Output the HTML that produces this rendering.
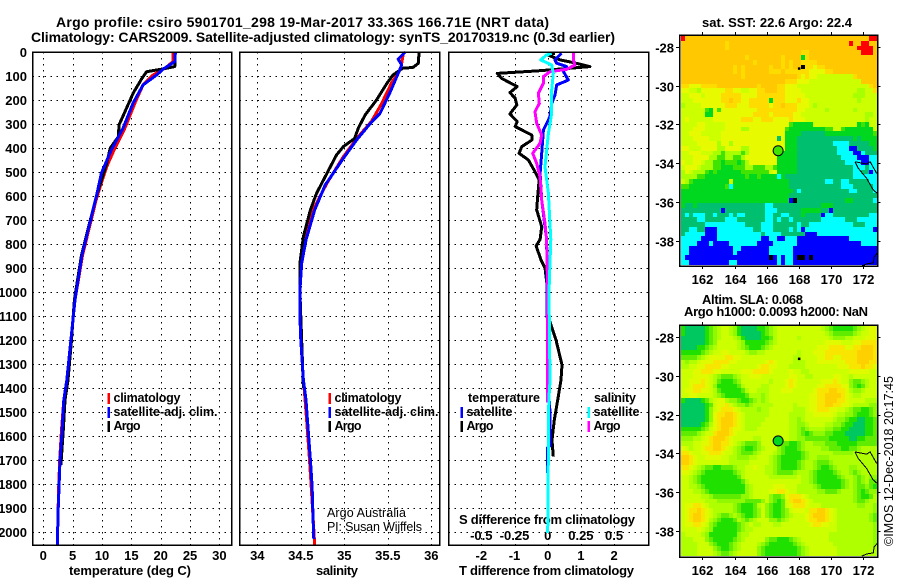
<!DOCTYPE html>
<html lang="en"><head><meta charset="utf-8"><title>Argo profile</title>
<style>
html,body{margin:0;padding:0;background:#fff;width:900px;height:580px;overflow:hidden}
svg{display:block}
text{font-family:"Liberation Sans",sans-serif;fill:#000}
.b{font-weight:bold;font-size:13px}
.l{font-weight:bold;font-size:12.5px}
.t{font-weight:bold;font-size:14px}
.n{font-size:12.5px}
</style></head><body>
<svg id="chart" xmlns="http://www.w3.org/2000/svg" width="900" height="580" viewBox="0 0 900 580">
<text class="t" x="56" y="27" textLength="493">Argo profile: csiro 5901701_298 19-Mar-2017 33.36S 166.71E (NRT data)</text>
<text class="t" x="31" y="42" textLength="584">Climatology: CARS2009. Satellite-adjusted climatology: synTS_20170319.nc (0.3d earlier)</text>
<text class="b" x="69" y="575" textLength="122">temperature (deg C)</text>
<text class="b" x="316" y="575" textLength="42">salinity</text>
<text class="b" x="459" y="575" textLength="175">T difference from climatology</text>
<text class="b" x="459" y="524" textLength="176">S difference from climatology</text>
<text class="n" x="327" y="517" textLength="79">Argo Australia</text>
<text class="n" x="327" y="531" textLength="95">PI: Susan Wijffels</text>
<text class="b" x="702" y="27" textLength="150">sat. SST: 22.6 Argo: 22.4</text>
<text class="b" x="702" y="304" textLength="101">Altim. SLA: 0.068</text>
<text class="b" x="684" y="316" textLength="184">Argo h1000: 0.0093 h2000: NaN</text>
<text class="n" transform="translate(893,546) rotate(-90)" textLength="170">©IMOS 12-Dec-2018 20:17:45</text>
</svg>
<script>
// ---------- chart data ----------
const depthTicks = [0,100,200,300,400,500,600,700,800,900,1000,1100,1200,1300,1400,1500,1600,1700,1800,1900,2000];
const tempTicks = [0,5,10,15,20,25,30];
const salTicks = [34,34.5,35,35.5,36];
const salTickLabels = ['34','34.5','35','35.5','36'];
const tDiffTicks = [-2,-1,0,1,2];
const sDiffTicks = [-0.5,-0.25,0,0.25,0.5];
const sDiffTickLabels = ['-0.5','-0.25','0','0.25','0.5'];
const lonTicks = [162,164,166,168,170,172];
const latTicks = [-28,-30,-32,-34,-36,-38];

const tempClimDepth = [0,40,68,96,137,213,317,401,478,561,617,846,1033,1200,1367,1450,1575,1700,1825,1925,2054];
const tempClim = [22.1,22.1,20.7,18.7,17,15.6,13.9,12.2,10.8,9.7,9,6.7,5.4,4.7,4,3.5,3.1,2.8,2.6,2.5,2.4];
const tempSatDepth = [0,40,70,96,137,213,317,408,505,595,846,1033,1200,1367,1450,1575,1700,1825,1925,2054];
const tempSat = [22.5,22.4,20.5,19.3,17,15.3,13.6,11.6,9.9,9.1,6.6,5.4,4.7,4,3.5,3.2,2.85,2.65,2.5,2.4];
const tempArgoDepth = [0,61,70,82,110,172,249,304,353,401,464,596,846,1033,1200,1367,1450,1575,1720];
const tempArgo = [22.4,22.4,20.5,17.6,16.8,15.3,13.9,12.9,12.8,11.4,10.8,9.1,6.5,5.3,4.8,4.2,3.7,3.4,3];

const salClimDepth = [0,47,68,131,214,290,353,436,547,658,783,894,992,1100,1200,1367,1450,1600,1700,1810,1935,2054];
const salClim = [35.68,35.66,35.65,35.54,35.43,35.31,35.16,34.99,34.8,34.64,34.55,34.5,34.49,34.49,34.5,34.53,34.55,34.58,34.6,34.62,34.64,34.66];
const salSatDepth = [0,30,54,89,165,256,297,367,443,554,658,783,880,992,1100,1200,1367,1450,1600,1700,1810,1935,2030];
const salSat = [35.7,35.62,35.66,35.62,35.53,35.41,35.3,35.14,34.99,34.78,34.66,34.56,34.51,34.49,34.49,34.5,34.53,34.56,34.59,34.61,34.63,34.64,34.65];
const salArgoDepth = [0,47,64,68,96,131,200,262,318,360,394,429,506,589,658,769,880,1000,1400];
const salArgo = [35.86,35.85,35.79,35.67,35.56,35.49,35.37,35.24,35.16,35.12,34.99,34.91,34.8,34.68,34.61,34.53,34.49,34.49,34.53];

const tDiffArgoDepth = [5,12,33,44,61,78,89,110,144,169,193,221,258,290,311,346,367,394,422,450,499,533,617,658,728,781,808,867,900,992,1117,1200,1304,1367,1450,1533,1617,1686];
const tDiffArgo = [0.22,0,0.37,0.77,1.27,-0.23,-1.52,-1.39,-0.92,-1.14,-0.98,-0.93,-1.14,-0.92,-0.98,-0.48,-0.48,-0.78,-0.86,-0.58,-0.38,-0.26,-0.31,-0.33,-0.18,-0.23,-0.35,-0.2,-0.08,0,0.05,0.25,0.43,0.4,0.3,0.2,0.13,0.17];
const tDiffSatDepth = [5,33,47,61,75,117,137,179,214,269,325,422,506,617,728,781,1000,1300,1400,1500,1640,1650,1755];
const tDiffSat = [0.42,0.22,0.27,0.57,0.45,0.62,0.27,0.22,0.12,0.07,-0.13,-0.18,-0.23,-0.18,-0.08,-0.03,-0.02,0,0.02,0.07,0.07,-0.01,-0.01];
const sDiffArgoDepth = [5,33,54,72,82,103,131,172,214,249,297,346,381,422,464,519,617,714,781,1000,1300,1460];
const sDiffArgo = [0.193,0.193,0.205,0.143,0.017,-0.033,-0.033,-0.07,-0.063,-0.096,-0.083,-0.045,-0.058,-0.113,-0.083,-0.058,-0.045,-0.02,-0.008,0,0,0];
const sDiffSatDepth = [5,12,33,54,89,158,256,339,478,589,781,1000,1370,1450,2004];
const sDiffSat = [0.03,-0.008,-0.053,0.03,0.042,0.03,0.03,0.005,-0.02,0.005,0.023,0.01,0.017,0.008,0];

const coastLon1 = [171.48,171.69,172.21,172.62,172.87];
const coastLat1 = [-33.93,-34.27,-34.79,-35.39,-35.56];
const coastLon2 = [171.48,172.21,172.42,172.83];
const coastLat2 = [-33.93,-34.05,-33.93,-34.53];
const coastLon3 = [171.9,172.21,172.62,172.67,172.87];
const coastLat3 = [-39.32,-39.21,-39.15,-38.84,-38.66];
const floatLon = 166.71;
const floatLat = -33.36;

const sstRows = [
"ROOOOOOOOO OOOOOOOOOO OOOOOOOOOO OOOOOOOOOO OOOOOOORR",
"OOOOOOOOOO OPOOOOOOOO OOOOOOOOOO OOOOOOOOOO OOROORROO",
"OOOOOOOOOO OPOOOOOOOO OOOOOOOOOO OOOOOOOOOO OOOORRRRO",
"OOOOOOOOOO OOOOOOOOOO OOOOOOOOOO PPOOOOOOOO OOOOORRRO",
"OOOOOOOOOO OOOOOOPOOO OOOOOPOOOO GPOOOOOOOO OOOOOOOOO",
"OOOOOOOOOO OOOOOOOOPO OOOOOPOPOO PPPPOOOOOO OOOOOOOOO",
"OOOOOOOOOO OOOPOPOOOO OOPOOPOPOO KPPYPPOOOO OOOOOOOOO",
"OOOOOOOOOO OOOPOPOOOO OOPPPOPPPP PPYYYYPPOO OOOOOOOOO",
"OOOOOOOOOO OOOOOPOOOO OOOOOOOOOP YPYYLLLLLL LLLPOOOOO",
"OOOOOOOOOO OOOOOOOOOO OOOOOOPPPY YYLLLLLLLL LLLLLOOOO",
"PPYYYPPPPO OOOOOOOOOP OOOOPPYYYL LLLLLLLLLL LLLLLLLPO",
"YYLLMYYYYY YPPYYLLYYP POOOPPYYYY LLLLLLLLLL LLLLMMLLP",
"LLYYYLYYYY PPPPPYYYYP PPPPPPYYYY YLLLLLLLLL LLLMMMLLL",
"LLLYYYYYYY PPOPPYYPPP PPGPPPYYYP YYLLLLLLLL LLLLMLLLL",
"MLLLLYYYYY YPPPYYYPPP PPYPPOPPPY YYLMLLLLLL LLLLLLLLL",
"LLLLLLHGYH YYYYYYYYYP PPPPPPPPPY YLLLLLMLLL LLLMLLLLL",
"LLLLLLGGYY YYYYYYYYPP PPYPPPPPYY LLLLLLLLLL LLLLLLMML",
"LYLLLLLLYY YYYYYPPPYY PPPYYYYPYY YLLLLLLLLL LLLLLLMLL",
"LLLLYYLLLL LYYYYYYYYY YYYYYYYHGG GGGLLLLLLL LLLLGHGLL",
"LLLYYYLLLL LYYYYMMYYY YYYYYYHGGG GGGGGGHHLL HGGGGGGGL",
"LLYYYLLLLL YYYYYYYYYY YYYYYYGGGG TTTTTTGGGG GGGGGGGGH",
"LLLYYYYLLL YYYYYYYYYY YYYYTYGGGT TTTTTTTTTT TTTGTGGGG",
"LLLLYYYYYM YYMYYYYYYY YYYYYYGGGT TTTTTTTTCC CCTTTTTGG",
"YYLLLYYYYM MYYYYMMYYY YYYYYYGGGT TTTTTTTTTC CCBBTTTTG",
"LLYYYLLLMM HMMMMHMYYY YYYYGGGGGT TTTTTTTTTC CCCBBCTTT",
"LLLYYYYMMH HMMHHMYYYY YYYYGGGGGT TTTTTTTTTT CCCCBBBCC",
"YLLYYLMMHH GHHHGHMYYY YYYYGGGGGT TTTTTTTTTT TCCCCBBCC",
"LYYYLMMMHH GGGHHHMMHH HMMHGGGGGT TTTTTTTTTT TTTCCCTCC",
"MYLMMMHGHG GGGGGHHHHH HHLYGGGGGT TTTTTTTTTT TTTCCTTBC",
"MMMMHHGGGG GGGGGGHGGH GGGGCGTTTT TTTTTTTTTT TTTCCCCCC",
"LMHGGGGGGG GGLGGGGGGG GGGGGGGTTT TTTTTTCCTT CCTTTTTCC",
"HHGGGGGGGG GHCGGGGGGG GGGGGGGTTT TTTTTTTTTT CCCTTTTTC",
"GGGGGGGGGG GGGGGGGGGG GGGGGGGGTC TTTTTTTTTT TTCCTTTTC",
"GGGGGGGGGG GGGGGGGGGG GGGGGGGTTT TTTTTTTTTT TTTTTTTTT",
"GGGGGGGGGG GGGGGGGGGG GGGGGGGBKT TTTTTTTTTT TGGTTTTTC",
"GTTGTTTTTT TTTTTTTTTT TCCTTTTTTT TTTTTGGGTT TTTTTTTTT",
"TTTTTTTTTT BTTTTTTTTT TCCCTTTTTT GGGGGTTBTT TTTTTTTTT",
"TCTCCCTTCT TTCTCCTTTT TCCTTCCTTT GTTTTBCCTT TTTTTTTCC",
"TTTTCCTTTT TCCCTTTTTT TCCTCTTCTT TTTTTCCCCC CTTTCCCCC",
"TTTTTTCCCC CCCCCCTTTT CCCTTTTTTC TTCCCCCCCC CCCTTTCCC",
"TTCCTTBBBC CCCCCCCCTT CCCTTTTCTC BCCCCCCCCC CCCCCCCCB",
"TCCCCCBBBC CCCCCCCCCC TCCCCTTTTT TBBBCCCCCC CCCCCCCCC",
"CCCCCBBBBC CCCCCCCCCC BBCCBBCCCB BBBBBBBBBB BBCCCCCCC",
"CCCCBBBCBB BBCCCCCCCB BBBCCCCCCB BBBBBBBBBB BBBBBCCCC",
"CCBBBBBBBB BBBCCBBBBB BBCCCCCCBB BBBBBBBBBB BBBBBBBBB",
"CCBBBBBBBB BBBCBBBBBB BBCCCCCCBB BBBBBBBBBB BBBBBBBBB",
"CBBBBBBBBB BBBBBBBBBB BBKBCBCCBK KBKBBBBBBB BBBBBBBBB",
"CCBBBBBBBB BBCCBBBBBB BBBBCBCCBB BBBBBBBBBB BBBBBBBBB"];
const slaRows = [
"hiiiiihgfe ddefhiiiih hgfedddddd dddddefghh hhhgfedcc",
"hiiiiihgfe ddefhiiiii hgfedddddd ddddddefgg gggfeddcc",
"iiiiiihgfe dddefhiiii hhgeddddde dddddddeff feedddccc",
"iiiiiihgfd ddddefhhhh hgfedddddd ddddddcccc dddccbbbb",
"iiiihhgfed ddddefghhh gfeddddddd ddddcccbbb bccbbaaab",
"hhhhhgfedd ccddddeffe edddddddde dddcccbbbb bbbbaaaab",
"ggggfedccc cbbccddddd ddddddddee ddddccbbcc bbbbaaaab",
"efeedcccbb bbccdddddd dcbcddddee edddcccccc cbbbaaabb",
"eeddccbbbb ccdddddddc bbccdddeee eddddddddc ccbbbabbc",
"dddccbbbcc dddddcccbb bbcddddcdd eedddddddd ddcccccdd",
"dddccccdef gggfeddccc dddddddccd deedddddcc ddedddddd",
"ddcccbcdeg hhhgfddddd ddedddcbcd dddddcccbc ddfggfedd",
"ddcbbbcdfh hhhhgedddd eeddddcbcd ddddccbbbb ccfghgedd",
"dccbbccdeg hhhhhgedde eedddcccdd dddcbbbaab bceffeddd",
"ddccddddef ghhhhhgeee fedddddddd ddccbbaaaa bcdeedddd",
"hiiiihgedc ceffghhgfe fedddddddd ddccbbaaab bcddddeee",
"iiiiiihgdc cbdeffgfee eeeddddded ddccbbaabb ccdeeeeff",
"iiiiiihfdc bbbcdeeeef eeddddddee edccbbbccd defgghhgf",
"iiiiiihfcb baabcdeeee eedddddeee eddcccccde effghhhgf",
"iiiiiihfcb aaabcdeeee eddddddeef edddddddef fghhiihhg",
"iiiiihgecb aaabcdeeee dddddddeef feddddeeff ghhiiihhg",
"hhhhhgfdcb aabccdeeed dddddddeef gfeeeeffgg hhiiiihhg",
"ggggfeddba aabcdddddd dddddddeef ghgfffgghh hiiiiihhg",
"fffeedcbaa abcdddddee dddddddeef fgggggghhh hhiihhggg",
"eeeddccbaa bbcdefgggf ddddfgghhg feefffgggh hhhhggggg",
"cdeddcbbaa bcdefghhgf edddfghhhg feeeeffggg hhggfeeee",
"bbcddccbbb cddefgggfe dddefghhhh gfeeeeeeff fffeeeeee",
"aabcddcccc ddeefffeed ddefghhhhh gfeefffeee eeeeeeeee",
"aabcdddddd ddeeeeeddd ddefghhhhg feefgggfee eeeeeeeee",
"bbcdefgghh gggfeeddcd deefghhhhg feefghhgfe eeffeeeee",
"ccdefghhhh hhhgfedddd deefggggfe eefghhhhgf eefgfeeee",
"ddefghhhhh hhhhgedddd ddeeeeeeed eefghhhhhg feefgfeff",
"ddefghhhhh hhhhhgeddd dddddddddd eefghhhhhh gfefgfegg",
"ddeefghhhh hhhhhhfedd dddcccddde eeefghhhhh gfefggfgh",
"dddeefghhh hhhhhhfedd ddccbbcdde eeeeffgggf eeefghgff",
"dddddeefgg gggggffedd ddfggfcbbb cdeeeeeeee eeefghhge",
"ddddddeeef ffffffgggg fdfghgdbaa bcdeeeeeee eeefggfee",
"dccbbcdeee eeefghhhge dfghhgdcbb bcdddeeeee eeeeffeef",
"dcbbabcdee eeefghhhgf dfghhgfdcc cdbbaabcde eeeeeeeef",
"dcbaabcdef ggfefghhgf dfghhgfedd dcbaaabcde eeeeeeefg",
"dcbaabcefg hhhgefgfed ddffgfeddd dcbbaabcde eeeeeeefg",
"dccbbcdfgh hhhhgfedee dddeeddddd ddcbbccdde eeeeeeeef",
"ddddcdefhh hhhhgfeedd dddddddddd ddddddddde eeeeeeeef",
"eddddefhhh hhhhfeeddd dddddddddd dddddddeee eeeeeeeef",
"eeedddfghh hhhgfedddd dfgghhhgfe dddddddeee eeeeeeeef",
"eeeedddfgh hhgfedddde fghhhhhhgf edddddddee eeeeeeeef",
"eeeeddddfg hhgfeddddf ghhhhhhhhg feddddddde eeeeeeeee",
"eeeeddddef ggfedddddf ghhhhhhhhg feddddddde eeeeeeeee"];

// ---------- drawing ----------
const NS = 'http://www.w3.org/2000/svg';
const svg = document.getElementById('chart');
const palette = {R:'#ff0000',O:'#ffc800',P:'#ffdc00',Y:'#e8fa00',L:'#ccff00',M:'#a8ff00',H:'#40e400',G:'#00d820',T:'#00c070',C:'#00ffff',B:'#0000ff',K:'#000000',
  a:'#ffd000',b:'#f8e600',c:'#e0fa00',d:'#ccff00',e:'#b0ff00',f:'#90f800',g:'#60ec00',h:'#20e000',i:'#00c860'};

function add(tag, attrs, name, parent) {
  const el = document.createElementNS(NS, tag);
  for (const k in attrs) el.setAttribute(k, attrs[k]);
  
  
  (parent || svg).appendChild(el);
  return el;
}
function label(str, x, y, anchor, name, cls) {
  const el = add('text', {x:x, y:y, 'text-anchor':anchor, class:cls || 'b'}, name);
  el.textContent = str;
  return el;
}
const depthY = d => 52 + 0.24 * d;
const tempX = t => 43.3 + 5.87 * t;
const salX = s => 257.3 + 87 * (s - 34);
const tDiffX = t => 547.7 + 33.2 * t;
const sDiffX = s => 547.7 + 132.8 * s;
const lonX = lon => 702.3 + 16.1 * (lon - 162);
const latY1 = lat => 47 + 19.35 * (-28 - lat);
const latY2 = lat => 337.3 + 19.33 * (-28 - lat);

const panelTop = 52, panelBottom = 545;
function panel(left, right, ticksX, xFn, labelsX, name) {
  const g = add('g', {}, name + '-gridlines');
  depthTicks.forEach(d => {
    const y = Math.round(depthY(d)) + 0.5;
    add('line', {x1:left, x2:right, y1:y, y2:y, stroke:'#000', 'stroke-width':1.2, 'stroke-dasharray':'1.5 4.5', 'shape-rendering':'crispEdges'}, 'depth-gridline', g);
  });
  ticksX.forEach((v, i) => {
    const x = Math.round(xFn(v)) + 0.5;
    add('line', {x1:x, x2:x, y1:panelTop, y2:panelBottom, stroke:'#000', 'stroke-width':1.2, 'stroke-dasharray':'1.5 4.5', 'shape-rendering':'crispEdges'}, 'vertical-gridline', g);
    label(labelsX[i], xFn(v), 560, 'middle', name + '-x-tick-label');
  });
}
function frame(left, right, top, bottom, name) {
  add('rect', {x:left, y:top, width:right - left, height:bottom - top, fill:'none', stroke:'#000', 'stroke-width':1.5, 'shape-rendering':'crispEdges'}, name);
}
function curve(depths, values, xFn, color, name, w) {
  const pts = depths.map((d, i) => xFn(values[i]).toFixed(1) + ',' + depthY(d).toFixed(1)).join(' ');
  add('polyline', {points:pts, fill:'none', stroke:color, 'stroke-width':w || 3, 'stroke-linejoin':'round', 'shape-rendering':'crispEdges'}, name);
}
function legendText(str, x, y, width, name) {
  const el = label(str, x, y, 'start', name, 'l');
  el.setAttribute('textLength', width);
  return el;
}
function legendEntry(x, y, color, str, width, name) {
  add('rect', {x:x, y:y - 9, width:2.5, height:11, fill:color, 'shape-rendering':'crispEdges'}, name + '-swatch');
  legendText(str, x + 6, y, width, name + '-label');
}

panel(32.5, 231.5, tempTicks, tempX, tempTicks.map(String), 'temperature');
panel(239.5, 439.5, salTicks, salX, salTickLabels, 'salinity');
panel(448.5, 648.5, tDiffTicks, tDiffX, tDiffTicks.map(String), 't-difference');
depthTicks.forEach(d => {
  label(String(d), 27, depthY(d) + 5, 'end', 'depth-tick-label');
});
sDiffTicks.forEach((v, i) => {
  label(sDiffTickLabels[i], sDiffX(v), 540, 'middle', 's-difference-tick-label');
});

curve(tempClimDepth, tempClim, tempX, '#ff0000', 'temperature-climatology-line');
curve(tempArgoDepth, tempArgo, tempX, '#000000', 'temperature-argo-line');
curve(tempSatDepth, tempSat, tempX, '#0000ff', 'temperature-satellite-line');
curve(salClimDepth, salClim, salX, '#ff0000', 'salinity-climatology-line');
curve(salArgoDepth, salArgo, salX, '#000000', 'salinity-argo-line');
curve(salSatDepth, salSat, salX, '#0000ff', 'salinity-satellite-line');
curve(tDiffArgoDepth, tDiffArgo, tDiffX, '#000000', 't-difference-argo-line');
curve(tDiffSatDepth, tDiffSat, tDiffX, '#0000ff', 't-difference-satellite-line');
curve(sDiffArgoDepth, sDiffArgo, sDiffX, '#ff00ff', 's-difference-argo-line');
curve(sDiffSatDepth, sDiffSat, sDiffX, '#00ffff', 's-difference-satellite-line');

frame(32.5, 231.5, panelTop, panelBottom, 'temperature-panel-frame');
frame(239.5, 439.5, panelTop, panelBottom, 'salinity-panel-frame');
frame(448.5, 648.5, panelTop, panelBottom, 't-difference-panel-frame');

legendEntry(107.5, 402, '#ff0000', 'climatology', 67, 'temperature-legend-climatology');
legendEntry(107.5, 416, '#0000ff', 'satellite-adj. clim.', 104, 'temperature-legend-satellite');
legendEntry(107.5, 430, '#000000', 'Argo', 27, 'temperature-legend-argo');
legendEntry(328.5, 402, '#ff0000', 'climatology', 67, 'salinity-legend-climatology');
legendEntry(328.5, 416, '#0000ff', 'satellite-adj. clim.', 104, 'salinity-legend-satellite');
legendEntry(328.5, 430, '#000000', 'Argo', 27, 'salinity-legend-argo');
legendText('temperature', 468, 402, 72, 'difference-legend-temperature-heading');
legendEntry(460.5, 416, '#0000ff', 'satellite', 46, 'difference-legend-temperature-satellite');
legendEntry(460.5, 430, '#000000', 'Argo', 27, 'difference-legend-temperature-argo');
legendText('salinity', 594, 402, 42, 'difference-legend-salinity-heading');
legendEntry(587.5, 416, '#00ffff', 'satellite', 46, 'difference-legend-salinity-satellite');
legendEntry(587.5, 430, '#ff00ff', 'Argo', 27, 'difference-legend-salinity-argo');

function mapPanel(rows, top, bottom, latY, name, circleFill) {
  const g = add('g', {'shape-rendering':'crispEdges'}, name + '-cells');
  const cellH = (bottom - top) / rows.length;
  rows.forEach((row, r) => {
    const cells = row.replace(/ /g, '');
    for (let c = 0; c < 49; c++) {
      const code = cells[Math.min(c, cells.length - 1)];
      const rowTop = Math.round(top + r * cellH);
      const rowEnd = Math.round(top + (r + 1) * cellH);
      add('rect', {x:681 + c * 4, y:rowTop, width:4, height:rowEnd - rowTop, fill:palette[code]}, name + '-cell', g);
    }
  });
  [[coastLon1, coastLat1], [coastLon2, coastLat2], [coastLon3, coastLat3]].forEach(pair => {
    const pts = pair[0].map((lon, i) => lonX(lon).toFixed(1) + ',' + latY(pair[1][i]).toFixed(1)).join(' ');
    add('polyline', {points:pts, fill:'none', stroke:'#000', 'stroke-width':1, 'shape-rendering':'crispEdges'}, name + '-coastline');
  });
  add('circle', {cx:lonX(floatLon), cy:latY(floatLat), r:5, fill:circleFill, stroke:'#000', 'stroke-width':1}, name + '-float-marker');
  add('rect', {x:lonX(168) - 1, y:latY(-29.05), width:2.5, height:2.5, fill:'#000'}, name + '-island');
  frame(679.5, 877.5, top - 1, bottom + 1, name + '-frame');
  lonTicks.forEach(lon => {
    const x = Math.round(lonX(lon)) + 0.5;
    add('line', {x1:x, x2:x, y1:top - 4, y2:top - 1, stroke:'#000', 'shape-rendering':'crispEdges'}, name + '-top-tick');
    add('line', {x1:x, x2:x, y1:bottom + 1, y2:bottom + 4, stroke:'#000', 'shape-rendering':'crispEdges'}, name + '-bottom-tick');
    label(String(lon), x, bottom + 19, 'middle', name + '-lon-tick-label');
  });
  latTicks.forEach(lat => {
    const y = Math.round(latY(lat)) + 0.5;
    add('line', {x1:877.5, x2:880.5, y1:y, y2:y, stroke:'#000', 'shape-rendering':'crispEdges'}, name + '-right-tick');
    add('line', {x1:676, x2:679.5, y1:y, y2:y, stroke:'#000', 'shape-rendering':'crispEdges'}, name + '-left-tick');
    label(String(lat), 674, y + 5, 'end', name + '-lat-tick-label');
  });
}
mapPanel(sstRows, 36, 265, latY1, 'sst-map', '#40e400');
mapPanel(slaRows, 326, 556, latY2, 'sla-map', '#00d820');
</script>
</body></html>
